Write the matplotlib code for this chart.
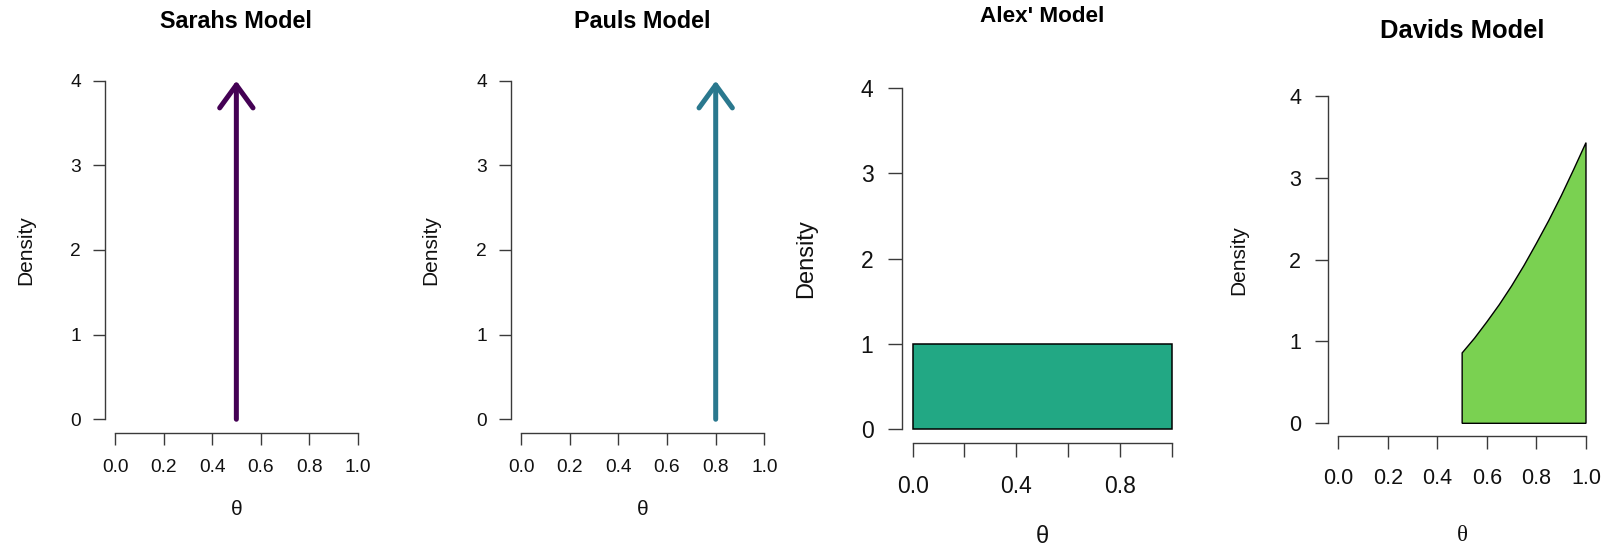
import matplotlib
matplotlib.use("Agg")
import matplotlib.pyplot as plt

# ---------------- data ----------------
titles = ["Sarahs Model", "Pauls Model", "Alex' Model", "Davids Model"]
colors = ["#440154", "#2A788E", "#22A884", "#7AD151"]

sarah_theta = 0.5
sarah_top = 4.0
paul_theta = 0.8
paul_top = 4.0

alex_lo = 0.0
alex_width = 1.0
alex_density = 1.0

david_theta = [0.50, 0.55, 0.60, 0.65, 0.70, 0.75, 0.80, 0.85, 0.90, 0.95, 1.00]
david_density = [0.86, 1.04, 1.24, 1.45, 1.68, 1.93, 2.20, 2.48, 2.78, 3.10, 3.43]

x_ticks = [0.0, 0.2, 0.4, 0.6, 0.8, 1.0]
x_labels_full = ["0.0", "0.2", "0.4", "0.6", "0.8", "1.0"]
x_labels_sparse = ["0.0", "", "0.4", "", "0.8", ""]
y_ticks = [0, 1, 2, 3, 4]
y_labels = ["0", "1", "2", "3", "4"]

# ---------------- layout (pixels) ----------------
W, H = 1606, 546
fig = plt.figure(figsize=(W / 100, H / 100), dpi=100)

panels = [
    dict(box=(105.3, 67.2, 262.1, 365.6), title_fs=16.8, tick_fs=13.8, lab_fs=15.0, th_fs=15.0,
         ticklen=8.4, xpad=10.3, ypad=9.0, title_y=1.1075, xlab_y=-0.211, ylab_x=-0.3026,
         xlabels=x_labels_full, theta_font="Liberation Sans"),
    dict(box=(511.3, 67.2, 262.8, 365.6), title_fs=16.8, tick_fs=13.8, lab_fs=15.0, th_fs=15.0,
         ticklen=8.4, xpad=10.3, ypad=9.0, title_y=1.1075, xlab_y=-0.211, ylab_x=-0.3056,
         xlabels=x_labels_full, theta_font="Liberation Sans"),
    dict(box=(902.3, 74.0, 279.7, 369.0), title_fs=16.2, tick_fs=16.5, lab_fs=17.0, th_fs=17.0,
         ticklen=9.8, xpad=13.5, ypad=11.0, title_y=1.141, xlab_y=-0.255, ylab_x=-0.344,
         xlabels=x_labels_sparse, theta_font="Liberation Sans"),
    dict(box=(1328.4, 82.9, 267.5, 353.5), title_fs=18.4, tick_fs=15.5, lab_fs=15.0, th_fs=16.5,
         ticklen=9.5, xpad=13.0, ypad=10.0, title_y=1.127, xlab_y=-0.28, ylab_x=-0.334,
         xlabels=x_labels_full, theta_font="Liberation Serif"),
]

axis_col = "#3a3a3a"
axes = []
for p, ttl in zip(panels, titles):
    l, t, w, h = p["box"]
    ax = fig.add_axes([l / W, (H - t - h) / H, w / W, h / H])
    ax.set_xlim(-0.04, 1.04)
    ax.set_ylim(-0.16, 4.16)
    for s in ["top", "right"]:
        ax.spines[s].set_visible(False)
    ax.spines["left"].set_bounds(0, 4)
    ax.spines["bottom"].set_bounds(0, 1)
    for s in ["left", "bottom"]:
        ax.spines[s].set_color(axis_col)
        ax.spines[s].set_linewidth(1.0)
    ax.set_xticks(x_ticks)
    ax.set_xticklabels(p["xlabels"])
    ax.set_yticks(y_ticks)
    ax.set_yticklabels(y_labels)
    ax.tick_params(axis="x", direction="out", length=p["ticklen"], width=1.0,
                   color=axis_col, pad=p["xpad"], labelsize=p["tick_fs"], labelcolor="#111111")
    ax.tick_params(axis="y", direction="out", length=p["ticklen"], width=1.0,
                   color=axis_col, pad=p["ypad"], labelsize=p["tick_fs"], labelcolor="#111111")
    for lab in ax.get_xticklabels() + ax.get_yticklabels():
        lab.set_family("Liberation Sans")
    ax.set_xlabel("θ", fontsize=p["th_fs"], family=p["theta_font"], color="#111111")
    ax.xaxis.set_label_coords(0.5, p["xlab_y"])
    ax.xaxis.label.set_va("center")
    ax.set_ylabel("Density", fontsize=p["lab_fs"], family="Liberation Sans", color="#111111")
    ax.yaxis.set_label_coords(p["ylab_x"], 0.5)
    ax.yaxis.label.set_va("center")
    ax.set_title(ttl, fontsize=p["title_fs"], fontweight="bold", family="Liberation Sans",
                 y=p["title_y"], pad=0, va="baseline")
    axes.append(ax)

# ---------------- marks ----------------
def spike(ax, x, top, col):
    ax.annotate("", xy=(x, top), xytext=(x, 0), xycoords="data", textcoords="data",
                arrowprops=dict(arrowstyle="->, head_length=16.5, head_width=12.0",
                                mutation_scale=1, lw=3.6, color=col,
                                shrinkA=0, shrinkB=0, capstyle="round", joinstyle="round"))

spike(axes[0], sarah_theta, sarah_top, colors[0])
spike(axes[1], paul_theta, paul_top, colors[1])

axes[2].bar(alex_lo, alex_density, width=alex_width, align="edge",
            color=colors[2], edgecolor="black", linewidth=1.1)

poly_x = [david_theta[0]] + david_theta + [david_theta[-1]]
poly_y = [0.0] + david_density + [0.0]
axes[3].fill(poly_x, poly_y, facecolor=colors[3], edgecolor="black", linewidth=1.0)

fig.savefig("out.png", dpi=100)
